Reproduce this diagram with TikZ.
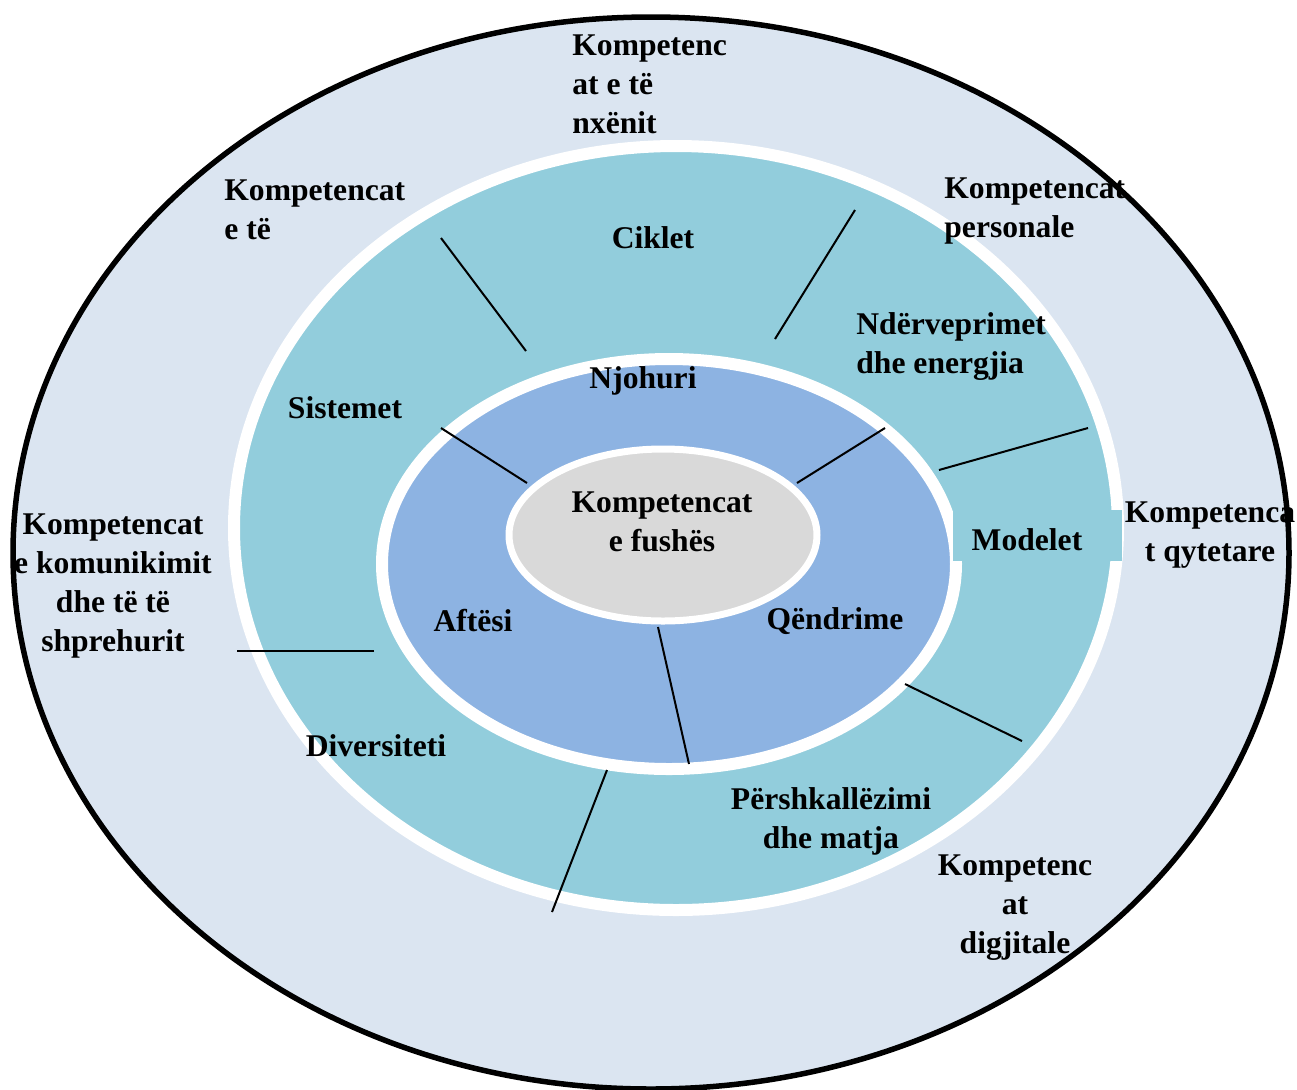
\documentclass[tikz,border=0pt]{standalone}
\usepackage{fontspec}
\setmainfont{Liberation Serif}
\usetikzlibrary{shapes.geometric}
\definecolor{outerfill}{HTML}{DBE5F1}
\definecolor{ringfill}{HTML}{92CDDC}
\definecolor{innerfill}{HTML}{8DB3E2}
\definecolor{corefill}{HTML}{D9D9D9}

\begin{document}
\begin{tikzpicture}[x=0.5pt, y=-0.5pt,
                    ring/.style ={ellipse  ,draw=white, inner sep=0, line width=6pt},
                    txt/.style  ={font=\fontsize{15.8}{19.5}\selectfont\bfseries, align=center, inner sep=0},
                    ltxt/.style ={txt, align=left, anchor=west},
                    spoke/.style={-        ,draw, color=black, line width=1pt}]

      \useasboundingbox (0,0) rectangle (1297,1089);

      % rings
      \node[ellipse, draw=black, fill=outerfill, line width=2.75pt, inner sep=0,
            minimum width=638pt, minimum height=536pt] at(651,553)   (outer) {};
      \node[ring, fill=ringfill,  minimum width=442pt, minimum height=382pt] at(676,528) (mid)   {};
      \node[ring, fill=innerfill, minimum width=287pt, minimum height=205pt] at(669,564) (inner) {};
      \node[rectangle, fill=ringfill, minimum width=84.5pt, minimum height=25.5pt]
                                                                       at(1037,535) (modbox) {};
      \node[ring, fill=corefill, line width=3.5pt, minimum width=154pt, minimum height=86pt]
                                                                       at(663,535) (core)  {};

      % spokes
      \coordinate (nwIn)   at(526,351);  \coordinate (nwOut)  at(441,238);
      \coordinate (neIn)   at(775,339);  \coordinate (neOut)  at(855,210);
      \coordinate (eIn)    at(939,470);  \coordinate (eOut)   at(1088,428);
      \coordinate (seIn)   at(905,684);  \coordinate (seOut)  at(1022,741);
      \coordinate (sIn)    at(607,770);  \coordinate (sOut)   at(552,912);
      \coordinate (wIn)    at(374,651);  \coordinate (wOut)   at(237,651);
      \coordinate (cnwIn)  at(527,483);  \coordinate (cnwOut) at(441,428);
      \coordinate (cneIn)  at(797,483);  \coordinate (cneOut) at(885,428);
      \coordinate (csIn)   at(658,627);  \coordinate (csOut)  at(689,764);
      \path[spoke] (nwIn)  -- (nwOut);
      \path[spoke] (neIn)  -- (neOut);
      \path[spoke] (eIn)   -- (eOut);
      \path[spoke] (seIn)  -- (seOut);
      \path[spoke] (sIn)   -- (sOut);
      \path[spoke] (wIn)   -- (wOut);
      \path[spoke] (cnwIn) -- (cnwOut);
      \path[spoke] (cneIn) -- (cneOut);
      \path[spoke] (csIn)  -- (csOut);

      % labels
      \node[txt]  at(662,522)  (fusha)   {Kompetencat\\e fushës};
      \node[txt]  at(643,381)  (njohuri) {Njohuri};
      \node[txt]  at(473,621)  (aftesi)  {Aftësi};
      \node[txt]  at(835,621)  (qendr)   {Qëndrime};
      \node[txt]  at(653,238)  (ciklet)  {Ciklet};
      \node[txt]  at(345,408)  (sistem)  {Sistemet};
      \node[txt]  at(376,746)  (divers)  {Diversiteti};
      \node[txt]  at(1027,540) (modelet) {Modelet};
      \node[ltxt] at(856,347)  (nderv)   {Ndërveprimet\\dhe energjia};
      \node[txt]  at(831,821)  (matja)   {Përshkallëzimi\\dhe matja};
      \node[ltxt] at(572,84)   (nxenit)  {Kompetenc\\at e të\\nxënit};
      \node[ltxt] at(224,210)  (mendim)  {Kompetencat\\e të};
      \node[ltxt] at(944,211)  (person)  {Kompetencat\\personale};
      \node[txt]  at(1210,535) (qytet)   {Kompetenca\\t qytetare};
      \node[txt]  at(113,586)  (komun)   {Kompetencat\\e komunikimit\\dhe të të\\shprehurit};
      \node[txt]  at(1015,908) (digj)    {Kompetenc\\at\\digjitale};
    \end{tikzpicture}
\end{document}
